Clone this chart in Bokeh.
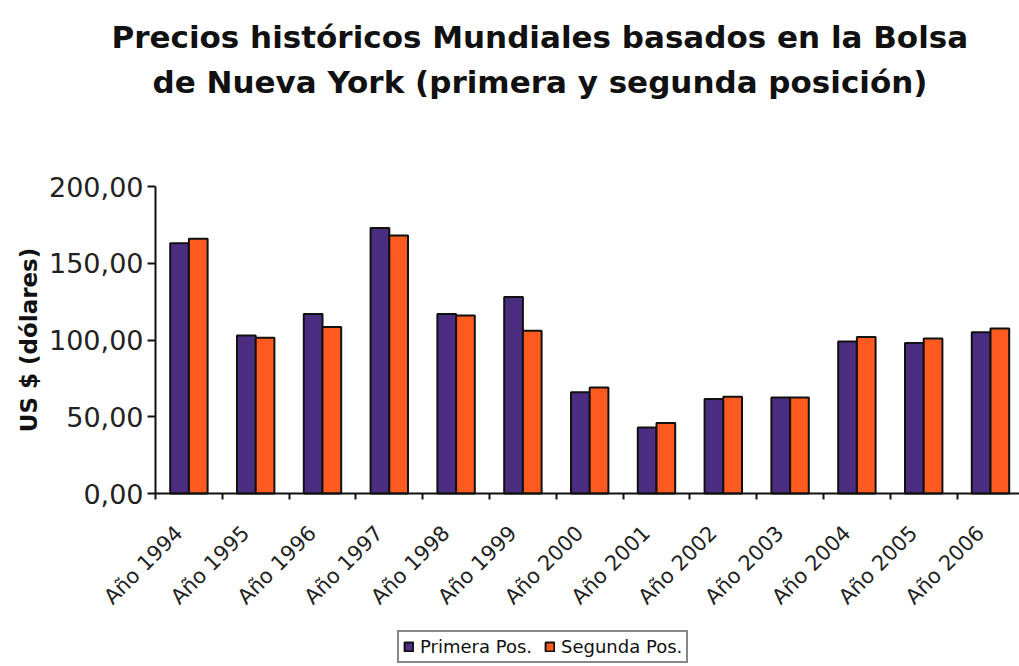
import math
from bokeh.plotting import figure
from bokeh.models import (Range1d, LinearAxis, FixedTicker, Legend, LegendItem,
                          ColumnDataSource, Title)
from bokeh.core.properties import value
from bokeh.transform import dodge
from bokeh.embed import file_html
from bokeh.resources import INLINE

years = ["Año 1994", "Año 1995", "Año 1996", "Año 1997", "Año 1998", "Año 1999",
         "Año 2000", "Año 2001", "Año 2002", "Año 2003", "Año 2004", "Año 2005",
         "Año 2006"]
primera = [163, 103, 117, 173, 117, 128, 66, 43, 61.5, 62.5, 99, 98, 105]
segunda = [166, 101.5, 108.5, 168, 116, 106, 69, 46, 63, 62.5, 102, 101, 107.5]
series_names = ["Primera Pos.", "Segunda Pos."]
y_ticks = [0, 50, 100, 150, 200]
y_tick_labels = ["0,00", "50,00", "100,00", "150,00", "200,00"]
title_lines = ["Precios históricos Mundiales basados en la Bolsa",
               "de Nueva York (primera y segunda posición)"]
y_label = "US $ (dólares)"

PURPLE = "#4b2d82"
ORANGE = "#ff5a1f"

# pixel layout of the plot area (frame spans the full width, y 105..666)
W, H = 1019, 666
FRAME_TOP, FRAME_BOTTOM = 105, 666
X0, CAT_PX = 155, 66.8          # y axis position, width of one category
Y0, Y200 = 493, 186             # pixel rows of value 0 and value 200
px_per_unit = (Y0 - Y200) / 200.0
x_start = -X0 / CAT_PX
x_end = (W - X0) / CAT_PX
y_end = 200 + (Y200 - FRAME_TOP) / px_per_unit
y_start = -(FRAME_BOTTOM - Y0) / px_per_unit

n = len(years)
centers = [i + 0.5 for i in range(n)]
bounds = list(range(n + 1))
src = ColumnDataSource(dict(center=centers, primera=primera, segunda=segunda,
                            year=years, base=[0] * n))

p = figure(width=W, height=H, x_range=Range1d(x_start, x_end),
           y_range=Range1d(y_start, y_end),
           output_backend="svg", toolbar_location=None,
           x_axis_type=None, y_axis_type=None,
           min_border_left=0, min_border_right=0, min_border_top=FRAME_TOP,
           min_border_bottom=0)
p.outline_line_color = None
p.xgrid.visible = False
p.ygrid.visible = False

t2 = Title(text=title_lines[1], align="left", offset=152, standoff=11,
           text_font="DejaVu Sans", text_font_size="31px", text_font_style="bold",
           text_color="#111111")
t1 = Title(text=title_lines[0], align="left", offset=111, standoff=3,
           text_font="DejaVu Sans", text_font_size="31px", text_font_style="bold",
           text_color="#111111")
p.add_layout(t2, "above")
p.add_layout(t1, "above")

r1 = p.vbar(x=dodge("center", -0.14, range=p.x_range), top="primera", bottom="base",
            width=0.28, source=src, fill_color=PURPLE, line_color="#111111",
            line_width=2)
r2 = p.vbar(x=dodge("center", 0.14, range=p.x_range), top="segunda", bottom="base",
            width=0.28, source=src, fill_color=ORANGE, line_color="#111111",
            line_width=2)

yaxis = LinearAxis(ticker=FixedTicker(ticks=y_ticks),
                   major_label_overrides=dict(zip(y_ticks, y_tick_labels)),
                   axis_label=y_label, bounds=(0, 200), fixed_location=0)
yaxis.axis_line_color = "#111111"
yaxis.axis_line_width = 2
yaxis.major_tick_line_color = "#111111"
yaxis.major_tick_line_width = 2
yaxis.major_tick_out = 8
yaxis.major_tick_in = 0
yaxis.minor_tick_line_color = None
yaxis.major_label_standoff = 4
yaxis.major_label_text_font = "DejaVu Sans"
yaxis.major_label_text_font_size = "27px"
yaxis.major_label_text_color = "#222222"
yaxis.axis_label_text_font = "DejaVu Sans"
yaxis.axis_label_text_font_size = "23px"
yaxis.axis_label_text_font_style = "bold"
yaxis.axis_label_text_color = "#111111"
yaxis.axis_label_standoff = 4
p.add_layout(yaxis, "left")

# x axis at y = 0 with tick marks at category boundaries
xtick = LinearAxis(ticker=FixedTicker(ticks=bounds),
                   major_label_overrides={b: "" for b in bounds},
                   fixed_location=0, bounds=(0, n))
xtick.axis_line_color = "#111111"
xtick.axis_line_width = 2
xtick.major_tick_line_color = "#111111"
xtick.major_tick_line_width = 2
xtick.major_tick_out = 6
xtick.major_tick_in = 0
xtick.minor_tick_line_color = None
xtick.major_label_text_font_size = "1px"
xtick.major_label_standoff = 0
p.add_layout(xtick, "below")

# rotated category labels under the axis
p.text(x=dodge("center", -0.15, range=p.x_range), y="base", text="year", source=src,
       angle=math.pi / 4, text_align="right", text_baseline="middle",
       y_offset=36, text_font_size="21px", text_color="#222222",
       text_font=value("DejaVu Sans"))

legend = Legend(items=[LegendItem(label=series_names[0], renderers=[r1]),
                       LegendItem(label=series_names[1], renderers=[r2])],
                orientation="horizontal", location=(397, 3))
legend.border_line_color = "#111111"
legend.border_line_width = 2
legend.background_fill_color = "white"
legend.label_text_font = "DejaVu Sans"
legend.label_text_font_size = "18px"
legend.label_text_color = "#111111"
legend.glyph_width = 11
legend.glyph_height = 11
legend.padding = 4
legend.spacing = 12
legend.label_standoff = 6
legend.margin = 0
p.add_layout(legend, "center")

open("out.html", "w").write(file_html(p, INLINE))
